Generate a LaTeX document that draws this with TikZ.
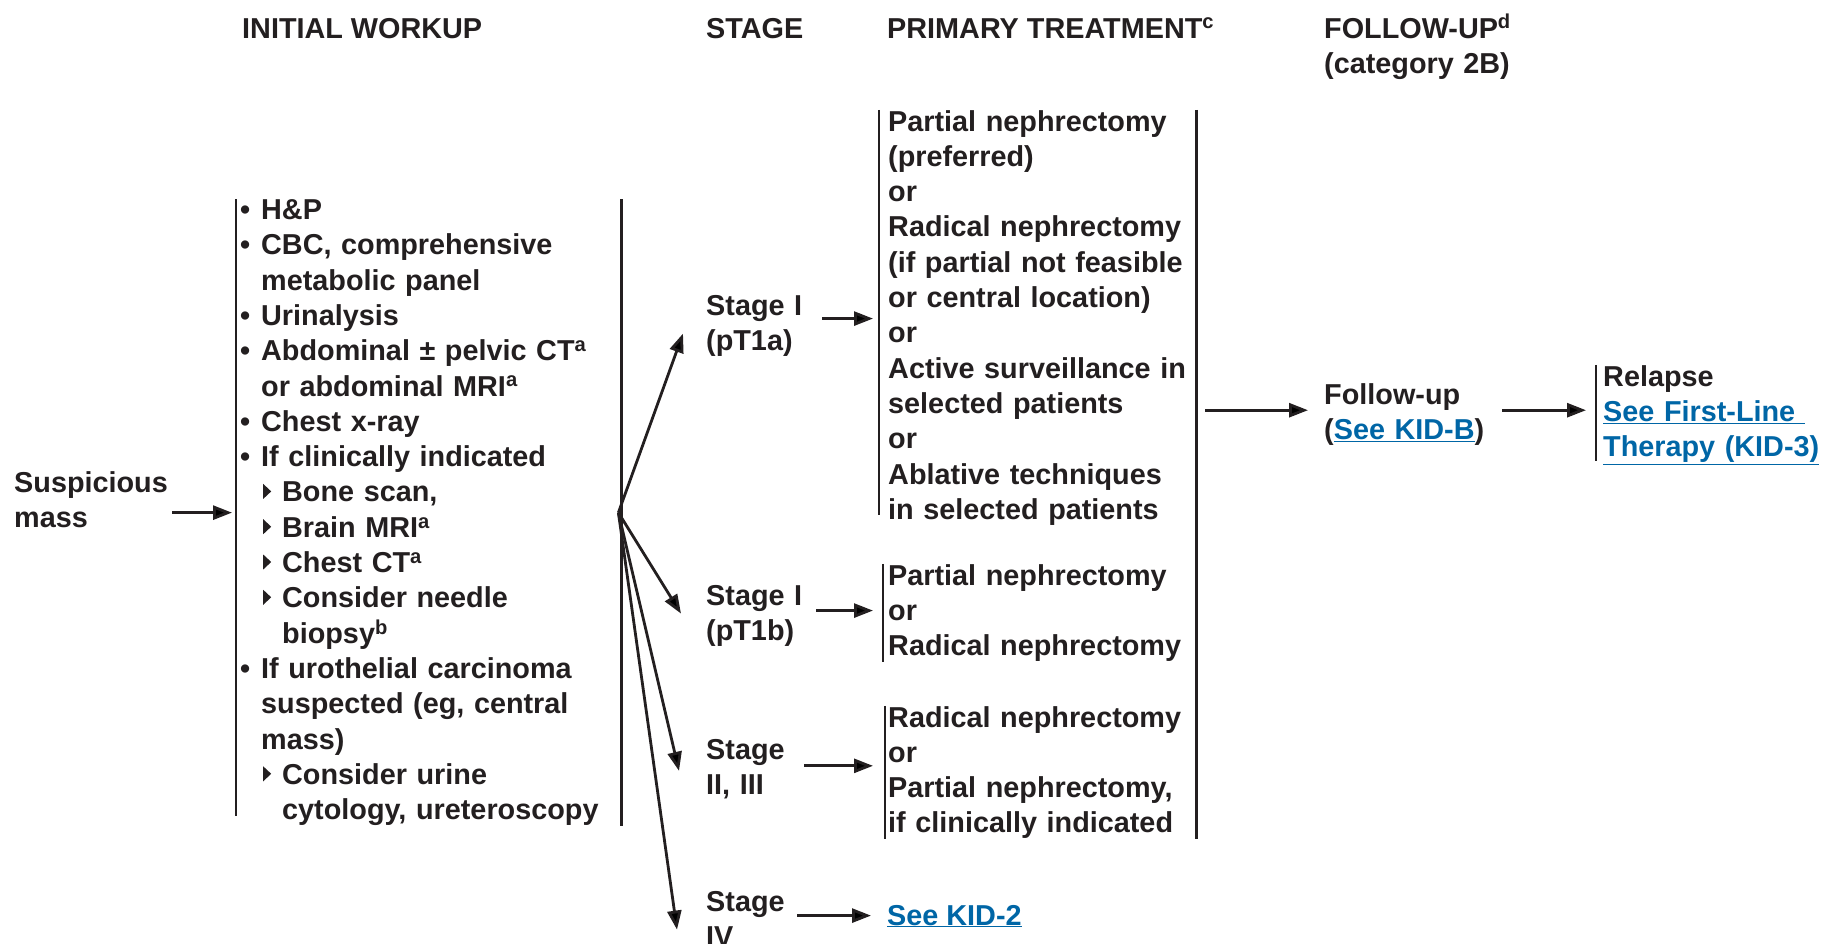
\documentclass[tikz,border=0pt]{standalone}
\usepackage{fontspec}
\setmainfont{Liberation Sans}
\usetikzlibrary{arrows.meta,calc}

\definecolor{ink}{RGB}{35,31,32}
\definecolor{linkblue}{RGB}{0,102,166}

\newcommand{\bul}{\makebox[21pt][l]{\textbullet}}
\newcommand{\tri}{\tikz[baseline={(0pt,-3pt)}]\fill (0pt,0pt) -- (0pt,15pt) -- (8pt,7.5pt) -- cycle;}
\newcommand{\subbul}{\hspace*{23pt}\makebox[19pt][l]{\tri}}
\newcommand{\ind}{\hspace*{21pt}}
\newcommand{\subind}{\hspace*{42pt}}
\newcommand{\lnk}[1]{\textcolor{linkblue}{\underline{#1}}}

\begin{document}
\begin{tikzpicture}[x=1pt,y=1pt,
	txt/.style={inner sep=0pt, anchor=base west, align=left, text=ink,
		font=\bfseries\fontsize{28.8}{35.3}\selectfont},
	bar/.style={draw=ink, line width=2.5pt},
	arr/.style={draw=ink, line width=2.8pt, -{Triangle[length=19pt,width=14pt]}}]

\useasboundingbox (0,0) rectangle (1821,-943);

% Column heads
\node[txt] (hdr_workup) at (242,-38) {INITIAL WORKUP};
\node[txt] (hdr_stage) at (706,-38) {STAGE};
\node[txt] (hdr_treat) at (887,-38) {PRIMARY TREATMENT\textsuperscript{c}};
\node[txt, text width=260pt] (hdr_follow) at (1324,-38)
	{FOLLOW-UP\textsuperscript{d}\\(category 2B)};

%%%%%%%%%%%%%%%%%%%
% Workup

\node[txt, text width=160pt] (susp) at (14,-492) {Suspicious\\mass};

\node[txt,
	text width=373pt] (workup) at (240,-219.5) {%
	\bul H\&P\\
	\bul CBC, comprehensive\\
	\ind metabolic panel\\
	\bul Urinalysis\\
	\bul Abdominal ± pelvic CT\textsuperscript{a}\\
	\ind or abdominal MRI\textsuperscript{a}\\
	\bul Chest x-ray\\
	\bul If clinically indicated\\
	\subbul Bone scan,\\
	\subbul Brain MRI\textsuperscript{a}\\
	\subbul Chest CT\textsuperscript{a}\\
	\subbul Consider needle\\
	\subind biopsy\textsuperscript{b}\\
	\bul If urothelial carcinoma\\
	\ind suspected (eg, central\\
	\ind mass)\\
	\subbul Consider urine\\
	\subind cytology, ureteroscopy};

\draw[bar] ([xshift=-4pt]workup.north west) -- ([xshift=-4pt,yshift=10pt]workup.south west);
\draw[bar] ([xshift=8pt]workup.north east) -- ([xshift=8pt]workup.south east);

\coordinate (fan) at ([xshift=5pt]workup.east);

\draw[arr] ($(susp.east |- workup.west)+(-2,0)$) -- ([xshift=-8pt]workup.west);

%%%%%%%%%%%%%%%%%%%
% Stages

\node[txt, text width=100pt] (stage_a) at (706,-315) {Stage I\\(pT1a)};
\node[txt, text width=100pt] (stage_b) at (706,-605) {Stage I\\(pT1b)};
\node[txt, text width=100pt] (stage_c) at (706,-759) {Stage\\II, III};
\node[txt, text width=100pt] (stage_d) at (706,-911) {Stage\\IV};

\draw[arr] (fan) -- ([xshift=-23pt,yshift=-8pt]stage_a.west);
\draw[arr] (fan) -- ([xshift=-25pt,yshift=2pt]stage_b.west);
\draw[arr] (fan) -- ([xshift=-27pt,yshift=-2pt]stage_c.west);
\draw[arr] (fan) -- ([xshift=-29pt,yshift=-11pt]stage_d.west);

%%%%%%%%%%%%%%%%%%%
% Primary treatment

\node[txt,
	text width=310pt] (treat_a) at (888,-131) {%
	Partial nephrectomy\\
	(preferred)\\
	or\\
	Radical nephrectomy\\
	(if partial not feasible\\
	or central location)\\
	or\\
	Active surveillance in\\
	selected patients\\
	or\\
	Ablative techniques\\
	in selected patients};

\node[txt,
	text width=310pt] (treat_b) at (888,-585) {%
	Partial nephrectomy\\
	or\\
	Radical nephrectomy};

\node[txt,
	text width=310pt] (treat_c) at (888,-727) {%
	Radical nephrectomy\\
	or\\
	Partial nephrectomy,\\
	if clinically indicated};

\node[txt] (kid2) at (887,-925) {\lnk{See KID-2}};

\draw[bar] ([xshift=-9pt]treat_a.north west) -- ([xshift=-9pt,yshift=10pt]treat_a.south west);
\draw[bar] ([xshift=-5pt]treat_b.north west) -- ([xshift=-5pt]treat_b.south west);
\draw[bar] ([xshift=-3pt]treat_c.north west) -- ([xshift=-3pt]treat_c.south west);
\draw[bar] ([xshift=-2pt]treat_a.north east) -- ([xshift=-2pt]treat_c.south east);

\draw[arr] ($(stage_a.east)+(16,7)$) -- ($(stage_a.east -| treat_a.west)+(-15,7)$);
\draw[arr] ($(stage_b.east)+(10,5)$) -- ($(stage_b.east -| treat_b.west)+(-15,5)$);
\draw[arr] ($(stage_c.east)+(-2,3)$) -- ($(stage_c.east -| treat_c.west)+(-15,3)$);
\draw[arr] ($(stage_d.east)+(-9,3)$) -- ($(stage_d.east -| kid2.west)+(-16,3)$);

%%%%%%%%%%%%%%%%%%%
% Follow-up

\node[txt, text width=175pt] (follow) at (1324,-404) {Follow-up\\(\lnk{See KID-B})};
\node[txt, text width=218pt] (relapse) at (1603,-386)
	{Relapse\\\lnk{See First-Line\ }\\\lnk{Therapy (KID-3)}};

\draw[bar] ([xshift=-7pt]relapse.north west) -- ([xshift=-7pt,yshift=4pt]relapse.south west);

\draw[arr] ($(follow.west -| treat_a.east)+(7,4)$) -- ($(follow.west)+(-16,4)$);
\draw[arr] ($(follow.east)+(3,4)$) -- ($(follow.east -| relapse.west)+(-17,4)$);

\end{tikzpicture}
\end{document}
